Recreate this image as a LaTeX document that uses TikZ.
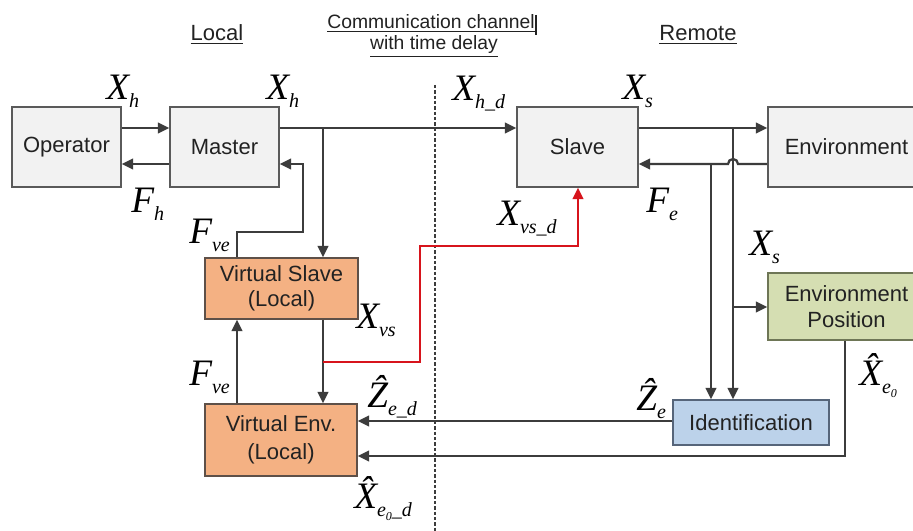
\documentclass[tikz,border=0pt]{standalone}
\usepackage{fontspec}
\setmainfont{Liberation Sans}
\newfontfamily\tms{Liberation Serif}
\usetikzlibrary{arrows.meta}
\definecolor{ln}{HTML}{3C3C3C}
\definecolor{txt}{HTML}{222222}
\definecolor{grayfill}{HTML}{F2F2F2}
\definecolor{grayedge}{HTML}{5A5A5A}
\definecolor{orfill}{HTML}{F4B183}
\definecolor{oredge}{HTML}{5E5048}
\definecolor{grfill}{HTML}{D5DEB2}
\definecolor{gredge}{HTML}{6E7656}
\definecolor{blfill}{HTML}{BCD2EA}
\definecolor{bledge}{HTML}{56657A}
\definecolor{redln}{HTML}{D7141C}
\newcommand{\mlab}[2]{{\tms\itshape\fontsize{28}{28}\selectfont #1}\raisebox{-6pt}{\tms\itshape\fontsize{15}{15}\selectfont #2}}
\newcommand{\zsub}{\raisebox{-3pt}{\fontsize{9}{9}\selectfont 0}}
\tikzset{
  blk/.style={draw=grayedge, fill=grayfill, line width=1.2pt, inner sep=0pt, align=center,
    text=txt, font=\fontsize{16.5}{20}\selectfont},
  orblk/.style={blk, draw=oredge, fill=orfill},
  grblk/.style={blk, draw=gredge, fill=grfill},
  blblk/.style={blk, draw=bledge, fill=blfill},
  arr/.style={draw=ln, line width=1.7pt, -{Triangle[length=8.5pt,width=8pt]}},
  redarr/.style={draw=redln, line width=1.7pt, -{Triangle[length=8.5pt,width=8pt]}},
  mathlab/.style={anchor=base west, inner sep=0pt, text=black},
  head/.style={anchor=base, inner sep=0pt, text=txt, font=\fontsize{16.5}{20}\selectfont},
  chan/.style={anchor=base, inner sep=0pt, text=txt, font=\fontsize{14.5}{18}\selectfont},
}
\begin{document}
\begin{tikzpicture}[x=0.75pt,y=-0.75pt]
\useasboundingbox (0,0) rectangle (913,531);
\clip (0,0) rectangle (913,531);
\fill[white] (0,0) rectangle (913,531);

% headings
\node[head] (hloc) at (217,41) {\underline{Local}};
\node[head] (hrem) at (698,41) {\underline{Remote}};
\node[chan] (hc1) at (431,29) {\underline{Communication channel}};
\node[chan] (hc2) at (434,50) {\underline{with time delay}};
\draw[txt, line width=0.8pt] (536,15) -- (536,35);

% channel boundary
\draw[ln, line width=1.4pt, dash pattern=on 2.5pt off 1.5pt] (435,85) -- (435,531);

% blocks
\node[blk, minimum width=109*0.75pt, minimum height=80*0.75pt] (op) at (66.5,147) {Operator};
\node[blk, minimum width=109*0.75pt, minimum height=80*0.75pt] (ma) at (224.5,147) {Master};
\node[blk, minimum width=121*0.75pt, minimum height=80*0.75pt] (sl) at (577.5,147) {Slave};
\node[blk, minimum width=157*0.75pt, minimum height=80*0.75pt] (en) at (846.5,147) {Environment};
\node[orblk, minimum width=153*0.75pt, minimum height=61*0.75pt, font=\fontsize{16.5}{19}\selectfont] (vs) at (281.5,288.5) {Virtual Slave\\(Local)};
\node[orblk, minimum width=152*0.75pt, minimum height=72*0.75pt, font=\fontsize{16.5}{21}\selectfont] (ve) at (281,440) {Virtual Env.\\(Local)};
\node[grblk, minimum width=157*0.75pt, minimum height=67*0.75pt] (ep) at (846.5,306.5) {Environment\\Position};
\node[blblk, minimum width=156*0.75pt, minimum height=45*0.75pt] (id) at (751,422.5) {Identification};

% helper coordinates
\coordinate (yA) at (0,128);
\coordinate (yB) at (0,164);
\coordinate (j1) at (323,128);
\coordinate (fv) at (237,232);
\coordinate (fv2) at (303,232);
\coordinate (r0) at (323,362);
\coordinate (r1) at (420,362);
\coordinate (r2) at (420,246);
\coordinate (r3) at (578,246);
\coordinate (j2) at (733,128);
\coordinate (j3) at (733,307);
\coordinate (j4) at (711,164);
\coordinate (yz) at (0,421);
\coordinate (k) at (845,456);
\coordinate (hop) at (738,164);

% connectors
\draw[arr] (op.east |- yA) -- (ma.west |- yA);
\draw[arr] (ma.west |- yB) -- (op.east |- yB);
\draw[arr] (ma.east |- yA) -- (sl.west |- yA);
\draw[arr] (j1) -- (j1 |- vs.north);
\draw[arr] (fv |- vs.north) -- (fv) -- (fv2) |- (ma.east |- yB);
\draw[arr] (j1 |- vs.south) -- (j1 |- ve.north);
\draw[arr] (fv |- ve.north) -- (fv |- vs.south);
\draw[redarr] (r0) -- (r1) -- (r2) -- (r3) -- (r3 |- sl.south);
\draw[arr] (sl.east |- yA) -- (en.west |- yA);
\draw[arr] (en.west |- yB) -- (hop) arc (0:180:3.75pt) -- (sl.east |- yB);
\draw[arr] (j2) -- (j2 |- id.north);
\draw[arr] (j3) -- (j3 -| ep.west);
\draw[arr] (j4) -- (j4 |- id.north);
\draw[arr] (id.west |- yz) -- (ve.east |- yz);
\draw[arr] (k |- ep.south) -- (k) -- (k -| ve.east);

% signal labels
\node[mathlab] (lXh1) at (106,100) {\mlab{X}{h}};
\node[mathlab] (lXh2) at (266,100) {\mlab{X}{h}};
\node[mathlab] (lXhd) at (452,101) {\mlab{X}{h\_d}};
\node[mathlab] (lXs1) at (622,100) {\mlab{X}{s}};
\node[mathlab] (lFh) at (131,212) {\mlab{F}{h}};
\node[mathlab] (lFe) at (646,212) {\mlab{F}{e}};
\node[mathlab] (lFve1) at (189,243) {\mlab{F}{ve}};
\node[mathlab] (lFve2) at (189,385) {\mlab{F}{ve}};
\node[mathlab] (lXvs) at (356,328) {\mlab{X}{vs}};
\node[mathlab] (lXvsd) at (497,225) {\mlab{X}{vs\_d}};
\node[mathlab] (lXs2) at (749,255) {\mlab{X}{s}};
\node[mathlab] (lZed) at (367,407) {\mlab{\^{Z}}{e\_d}};
\node[mathlab] (lZe) at (636,410) {\mlab{\^{Z}}{e}};
\node[mathlab] (lXe0) at (859,385) {\mlab{\^{X}}{e\zsub}};
\node[mathlab] (lXe0d) at (354,508) {\mlab{\^{X}}{e\zsub\_d}};
\end{tikzpicture}
\end{document}
